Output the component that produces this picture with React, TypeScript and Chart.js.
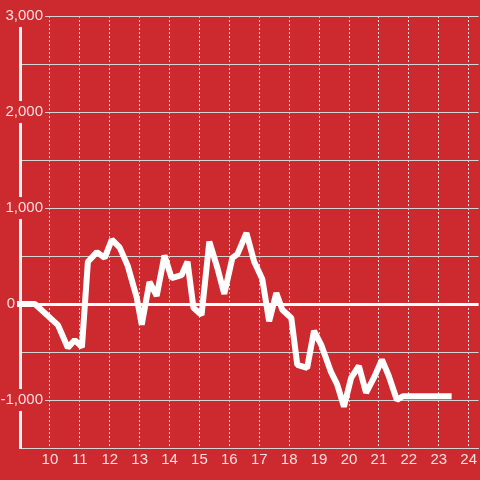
import React, { useEffect, useRef } from "react";
import { Chart, registerables } from "chart.js";

Chart.register(...registerables);

const xValues = [
  9.0, 9.5, 10.27, 10.6, 10.83, 11.07, 11.27, 11.57, 11.83, 12.07, 12.33, 12.6,
  12.9, 13.07, 13.33, 13.57, 13.83, 14.07, 14.4, 14.6, 14.8, 15.07, 15.33, 15.6,
  15.83, 16.1, 16.27, 16.57, 16.83, 17.1, 17.33, 17.57, 17.77, 18.07, 18.27,
  18.6, 18.83, 19.07, 19.4, 19.6, 19.83, 20.07, 20.33, 20.57, 20.83, 21.1, 21.33,
  21.6, 21.8, 23.33,
];
const yValues = [
  0, 0, -220, -455, -375, -450, 440, 540, 480, 670, 590, 400, 70, -215, 230, 85,
  505, 270, 300, 440, -40, -115, 650, 375, 105, 480, 520, 740, 440, 260, -180,
  115, -60, -145, -635, -665, -280, -425, -710, -835, -1070, -770, -645, -925,
  -770, -580, -750, -1000, -960, -960,
];
const xTicks = [10, 11, 12, 13, 14, 15, 16, 17, 18, 19, 20, 21, 22, 23, 24];
const yTicks = [-1500, -1000, -500, 0, 500, 1000, 1500, 2000, 2500, 3000];
const yLabelValues = [-1000, 0, 1000, 2000, 3000];
const yLabelTexts = ["-1,000", "0\u00a0\u00a0\u00a0\u00a0\u00a0\u00a0\u2009", "1,000", "2,000", "3,000"];

const RED = "#cc2a2f";
const FONT = { family: "'Liberation Sans', Arial, sans-serif", size: 15 };
const LABEL_COLOR = "rgba(255,255,255,0.85)";

export default function App() {
  const ref = useRef<HTMLCanvasElement | null>(null);
  useEffect(() => {
    if (!ref.current) return;
    const chart = new Chart(ref.current, {
      type: "line",
      data: {
        datasets: [
          {
            data: xValues.map((x, i) => ({ x, y: yValues[i] })),
            borderColor: "#ffffff",
            borderWidth: 6,
            borderCapStyle: "square",
            borderJoinStyle: "bevel",
            pointRadius: 0,
            tension: 0,
            fill: false,
            clip: false as any,
          },
        ],
      },
      options: {
        animation: false,
        responsive: false,
        devicePixelRatio: 1,
        layout: { padding: { top: 16, left: 0, right: 0, bottom: 0 } },
        plugins: { legend: { display: false }, tooltip: { enabled: false } },
        scales: {
          x: {
            type: "linear",
            min: 9,
            max: 9 + 460 / 30,
            afterBuildTicks: (s: any) => {
              s.ticks = xTicks.map((v) => ({ value: v }));
            },
            afterFit: (s: any) => {
              s.height = 32;
            },
            grid: {
              color: "#e0e0e0",
              lineWidth: 1,
              drawTicks: false,
            },
            border: { display: true, color: "#d4d4d4", width: 1, dash: [2, 2] },
            ticks: {
              color: LABEL_COLOR,
              font: FONT,
              padding: 3,
              maxRotation: 0,
              autoSkip: false,
              callback: (v: any) => String(v),
            },
          },
          y: {
            type: "linear",
            min: -1500,
            max: 3000,
            afterBuildTicks: (s: any) => {
              s.ticks = yTicks.map((v) => ({ value: v }));
            },
            afterFit: (s: any) => {
              s.width = 20;
              s._computeLabelArea = () => undefined;
            },
            grid: {
              color: (c: any) => (c.tick && c.tick.value === 0 ? "#ffffff" : "#d4d4d4"),
              lineWidth: (c: any) => (c.tick && c.tick.value === 0 ? 3 : 1),
              drawTicks: false,
            },
            border: { display: true, color: "#f4f4f4", width: 3 },
            ticks: {
              color: LABEL_COLOR,
              font: FONT,
              padding: -23,
              autoSkip: false,
              showLabelBackdrop: (c: any) =>
                c.tick && c.tick.value !== 0 && yLabelValues.includes(c.tick.value),
              backdropColor: RED,
              backdropPadding: 2,
              callback: (v: any) => {
                const i = yLabelValues.indexOf(Number(v));
                return i >= 0 ? yLabelTexts[i] : "";
              },
            } as any,
          },
        },
      },
    });
    return () => chart.destroy();
  }, []);
  return (
    <div style={{ position: "absolute", left: 0, top: 0, width: 480, height: 480, background: RED }}>
      <canvas ref={ref} width={480} height={480} style={{ display: "block", width: 480, height: 480 }} />
    </div>
  );
}
